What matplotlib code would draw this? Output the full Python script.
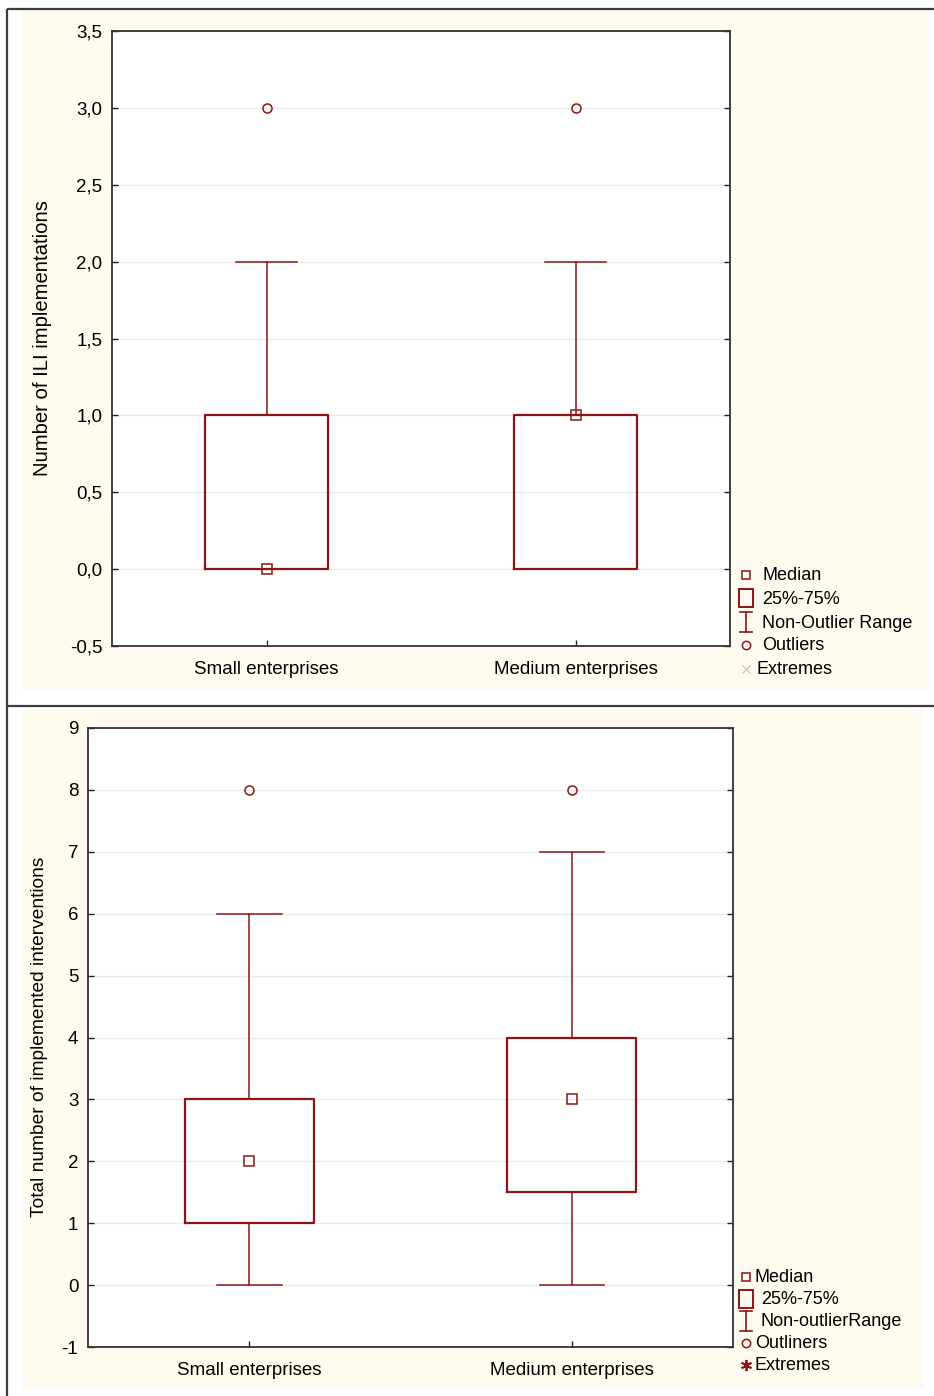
import matplotlib
matplotlib.use("Agg")
import matplotlib.pyplot as plt
from matplotlib.patches import Rectangle

plt.rcParams['font.family'] = ['Liberation Sans', 'DejaVu Sans']

# ---------------- data ----------------
categories = ["Small enterprises", "Medium enterprises"]

top_q1 = [0.0, 0.0]
top_q3 = [1.0, 1.0]
top_med = [0.0, 1.0]
top_whislo = [0.0, 0.0]
top_whishi = [2.0, 2.0]
top_outliers = [[3.0], [3.0]]
top_yticks = [-0.5, 0.0, 0.5, 1.0, 1.5, 2.0, 2.5, 3.0, 3.5]
top_yticklabels = ["-0,5", "0,0", "0,5", "1,0", "1,5", "2,0", "2,5", "3,0", "3,5"]
top_ylabel = "Number of ILI implementations"
top_legend = ["Median", "25%-75%", "Non-Outlier Range", "Outliers", "Extremes"]

bot_q1 = [1.0, 1.5]
bot_q3 = [3.0, 4.0]
bot_med = [2.0, 3.0]
bot_whislo = [0.0, 0.0]
bot_whishi = [6.0, 7.0]
bot_outliers = [[8.0], [8.0]]
bot_yticks = [-1, 0, 1, 2, 3, 4, 5, 6, 7, 8, 9]
bot_yticklabels = [str(v) for v in bot_yticks]
bot_ylabel = "Total number of implemented interventions"
bot_legend = ["Median", "25%-75%", "Non-outlierRange", "Outliners", "Extremes"]

# ---------------- style ----------------
W, H = 934, 1396
RED = "#8C1414"
CREAM = "#FFFAF0"
FRAME = "#3c3c3c"
FS = 13.5
FS_LEG = 13

fig = plt.figure(figsize=(W / 100, H / 100), dpi=100)
fig.patch.set_facecolor("white")

# background / decoration axes in pixel coordinates
bg = fig.add_axes([0, 0, 1, 1], zorder=0)
bg.set_xlim(0, W)
bg.set_ylim(H, 0)
bg.axis("off")
bg.add_patch(Rectangle((22, 10), 908, 680, facecolor=CREAM, edgecolor="none"))
bg.add_patch(Rectangle((22, 709), 901, 679, facecolor=CREAM, edgecolor="none"))
bg.plot([7, W], [9, 9], color=FRAME, lw=1.6, solid_capstyle="butt")
bg.plot([7, W], [706, 706], color=FRAME, lw=1.6, solid_capstyle="butt")
bg.plot([7, 7], [9, H], color=FRAME, lw=1.6, solid_capstyle="butt")


def px_axes(l, t, r, b):
    return [l / W, 1 - b / H, (r - l) / W, (b - t) / H]


def draw_panel(rect, q1, q3, med, wlo, whi, outl, yticks, ylabels, ylim):
    ax = fig.add_axes(rect, zorder=1)
    ax.set_facecolor("white")
    stats = []
    for i in range(len(categories)):
        stats.append(dict(label=categories[i], q1=q1[i], q3=q3[i], med=med[i],
                          whislo=wlo[i], whishi=whi[i], fliers=outl[i]))
    pos = [1, 2]
    ax.bxp(stats, positions=pos, widths=0.4, capwidths=0.2,
           boxprops=dict(color=RED, lw=1.6),
           whiskerprops=dict(color=RED, lw=1.1),
           capprops=dict(color=RED, lw=1.1),
           medianprops=dict(linestyle="none"),
           flierprops=dict(marker="o", markerfacecolor="none",
                           markeredgecolor=RED, markersize=6.5, markeredgewidth=1.1),
           zorder=3)
    ax.plot(pos, med, linestyle="none", marker="s", markersize=6.5,
            markerfacecolor="none", markeredgecolor=RED, markeredgewidth=1.1, zorder=4)
    ax.set_xlim(0.5, 2.5)
    ax.set_ylim(*ylim)
    ax.set_yticks(yticks)
    ax.set_yticklabels(ylabels)
    ax.set_xticks(pos)
    ax.set_xticklabels(categories)
    ax.yaxis.grid(True, color="#ebebeb", lw=1.0, zorder=0)
    ax.set_axisbelow(True)
    ax.tick_params(axis="both", direction="in", length=4, width=1.0,
                   labelsize=FS, colors="#222222", labelcolor="black")
    ax.tick_params(axis="y", right=True, pad=7)
    ax.tick_params(axis="x", pad=11)
    for s in ax.spines.values():
        s.set_color("#333333")
        s.set_linewidth(1.3)
    return ax


ax1 = draw_panel(px_axes(112, 31, 730, 646), top_q1, top_q3, top_med, top_whislo,
                 top_whishi, top_outliers, top_yticks, top_yticklabels, (-0.5, 3.5))
ax2 = draw_panel(px_axes(88, 728, 733, 1347), bot_q1, bot_q3, bot_med, bot_whislo,
                 bot_whishi, bot_outliers, bot_yticks, bot_yticklabels, (-1, 9))

fig.text(43 / W, 1 - 338 / H, top_ylabel, rotation=90, ha="center", va="center", fontsize=14.6)
fig.text(40 / W, 1 - 1037 / H, bot_ylabel, rotation=90, ha="center", va="center", fontsize=13.8)


def draw_legend(x, ys, labels, text_x, extreme_style):
    # median
    bg.plot([x], [ys[0]], marker="s", markersize=6, markerfacecolor="none",
            markeredgecolor=RED, markeredgewidth=1.1, linestyle="none")
    # box
    bg.add_patch(Rectangle((x - 7, ys[1] - 9), 14, 18, facecolor="none",
                           edgecolor=RED, lw=1.4))
    # range
    bg.plot([x, x], [ys[2] - 10, ys[2] + 10], color=RED, lw=1.2)
    bg.plot([x - 6, x + 6], [ys[2] - 10, ys[2] - 10], color=RED, lw=1.2)
    bg.plot([x - 6, x + 6], [ys[2] + 10, ys[2] + 10], color=RED, lw=1.2)
    # outliers
    bg.plot([x], [ys[3]], marker="o", markersize=6, markerfacecolor="none",
            markeredgecolor=RED, markeredgewidth=1.1, linestyle="none")
    # extremes
    if extreme_style == "faint":
        bg.plot([x], [ys[4]], marker="x", markersize=6, markeredgecolor="#dcb4b4",
                markeredgewidth=0.8, linestyle="none")
    else:
        bg.plot([x], [ys[4]], marker=(6, 2, 0), markersize=8, markeredgecolor=RED,
                markeredgewidth=1.3, linestyle="none")
    for y, lab, tx in zip(ys, labels, text_x):
        bg.text(tx, y + 1, lab, ha="left", va="center", fontsize=FS_LEG)


draw_legend(746, [575, 598, 622, 645, 669], top_legend, [762, 762, 762, 762, 756], "faint")
draw_legend(746, [1277, 1299, 1321, 1343, 1365], bot_legend, [755, 761, 761, 755, 755], "star")

fig.savefig("out.png", dpi=100)
